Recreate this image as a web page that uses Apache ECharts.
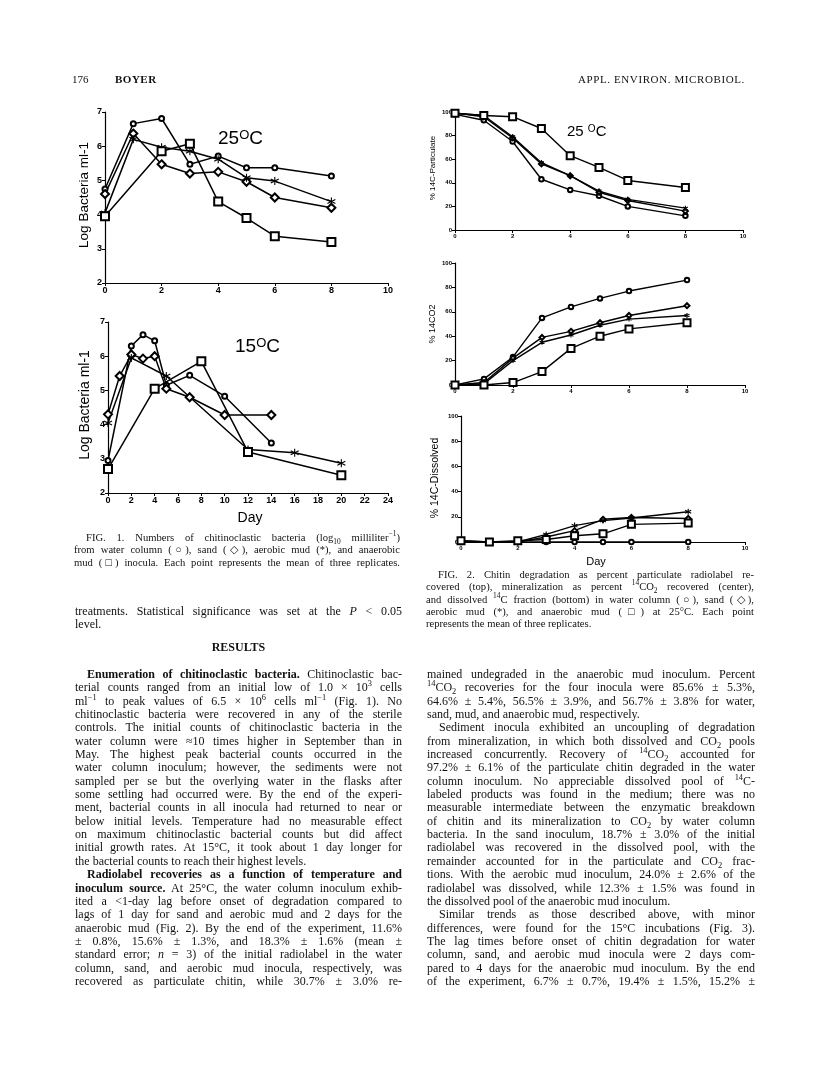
<!DOCTYPE html>
<html><head><meta charset="utf-8">
<script src="https://cdn.jsdelivr.net/npm/echarts@6/dist/echarts.min.js"></script>
<style>
html,body{margin:0;padding:0;background:#fff;}
#page{position:relative;width:816px;height:1080px;overflow:hidden;background:#fff;}
#chart{position:absolute;left:0;top:0;width:816px;height:1080px;}
.txt{position:absolute;font-family:"Liberation Serif","Times New Roman",serif;color:#111;}
.body{font-size:12px;line-height:13.35px;}
.cap{font-size:10.6px;line-height:12.3px;}
.l{white-space:nowrap;overflow:visible;height:13.35px;}
.cap .l{height:12.3px;}
.j{text-align:justify;text-align-last:justify;white-space:normal;}
.ind{padding-left:12px;}
sup,sub{font-size:70%;line-height:0;}
b{font-weight:bold;}
</style></head>
<body><div id="page"><div id="chart"></div>

<div class="txt" style="left:72px;top:73px;font-size:11px;">176</div>
<div class="txt" style="left:115px;top:73px;font-size:11px;font-weight:bold;letter-spacing:0.5px;">BOYER</div>
<div class="txt" style="left:578px;top:73px;font-size:11px;letter-spacing:0.6px;">APPL. ENVIRON. MICROBIOL.</div>

<div class="txt cap" style="left:74px;top:532px;width:326px;">
<div class="l j ind">FIG. 1. Numbers of chitinoclastic bacteria (log<sub>10</sub> milliliter<sup>−1</sup>)</div>
<div class="l j">from water column (○), sand (◇), aerobic mud (*), and anaerobic</div>
<div class="l j">mud (□) inocula. Each point represents the mean of three replicates.</div>
</div>

<div class="txt cap" style="left:426px;top:569px;width:328px;">
<div class="l j ind">FIG. 2. Chitin degradation as percent particulate radiolabel re-</div>
<div class="l j">covered (top), mineralization as percent <sup>14</sup>CO<sub>2</sub> recovered (center),</div>
<div class="l j">and dissolved <sup>14</sup>C fraction (bottom) in water column (○), sand (◇),</div>
<div class="l j">aerobic mud (*), and anaerobic mud (□) at 25°C. Each point</div>
<div class="l">represents the mean of three replicates.</div>
</div>

<div class="txt body" style="left:75px;top:605px;width:327px;">
<div class="l j">treatments. Statistical significance was set at the <i>P</i> &lt; 0.05</div>
<div class="l">level.</div>
</div>
<div class="txt body" style="left:75px;top:641px;width:327px;text-align:center;font-weight:bold;">RESULTS</div>

<div class="txt body" style="left:75px;top:668px;width:327px;">
<div class="l j ind"><b>Enumeration of chitinoclastic bacteria.</b> Chitinoclastic bac-</div>
<div class="l j">terial counts ranged from an initial low of 1.0 × 10<sup>3</sup> cells</div>
<div class="l j">ml<sup>−1</sup> to peak values of 6.5 × 10<sup>6</sup> cells ml<sup>−1</sup> (Fig. 1). No</div>
<div class="l j">chitinoclastic bacteria were recovered in any of the sterile</div>
<div class="l j">controls. The initial counts of chitinoclastic bacteria in the</div>
<div class="l j">water column were ≈10 times higher in September than in</div>
<div class="l j">May. The highest peak bacterial counts occurred in the</div>
<div class="l j">water column inoculum; however, the sediments were not</div>
<div class="l j">sampled per se but the overlying water in the flasks after</div>
<div class="l j">some settling had occurred were. By the end of the experi-</div>
<div class="l j">ment, bacterial counts in all inocula had returned to near or</div>
<div class="l j">below initial levels. Temperature had no measurable effect</div>
<div class="l j">on maximum chitinoclastic bacterial counts but did affect</div>
<div class="l j">initial growth rates. At 15°C, it took about 1 day longer for</div>
<div class="l">the bacterial counts to reach their highest levels.</div>
<div class="l j ind"><b>Radiolabel recoveries as a function of temperature and</b></div>
<div class="l j"><b>inoculum source.</b> At 25°C, the water column inoculum exhib-</div>
<div class="l j">ited a &lt;1-day lag before onset of degradation compared to</div>
<div class="l j">lags of 1 day for sand and aerobic mud and 2 days for the</div>
<div class="l j">anaerobic mud (Fig. 2). By the end of the experiment, 11.6%</div>
<div class="l j">± 0.8%, 15.6% ± 1.3%, and 18.3% ± 1.6% (mean ±</div>
<div class="l j">standard error; <i>n</i> = 3) of the initial radiolabel in the water</div>
<div class="l j">column, sand, and aerobic mud inocula, respectively, was</div>
<div class="l j">recovered as particulate chitin, while 30.7% ± 3.0% re-</div>
</div>

<div class="txt body" style="left:427px;top:668px;width:328px;">
<div class="l j">mained undegraded in the anaerobic mud inoculum. Percent</div>
<div class="l j"><sup>14</sup>CO<sub>2</sub> recoveries for the four inocula were 85.6% ± 5.3%,</div>
<div class="l j">64.6% ± 5.4%, 56.5% ± 3.9%, and 56.7% ± 3.8% for water,</div>
<div class="l">sand, mud, and anaerobic mud, respectively.</div>
<div class="l j ind">Sediment inocula exhibited an uncoupling of degradation</div>
<div class="l j">from mineralization, in which both dissolved and CO<sub>2</sub> pools</div>
<div class="l j">increased concurrently. Recovery of <sup>14</sup>CO<sub>2</sub> accounted for</div>
<div class="l j">97.2% ± 6.1% of the particulate chitin degraded in the water</div>
<div class="l j">column inoculum. No appreciable dissolved pool of <sup>14</sup>C-</div>
<div class="l j">labeled products was found in the medium; there was no</div>
<div class="l j">measurable intermediate between the enzymatic breakdown</div>
<div class="l j">of chitin and its mineralization to CO<sub>2</sub> by water column</div>
<div class="l j">bacteria. In the sand inoculum, 18.7% ± 3.0% of the initial</div>
<div class="l j">radiolabel was recovered in the dissolved pool, with the</div>
<div class="l j">remainder accounted for in the particulate and CO<sub>2</sub> frac-</div>
<div class="l j">tions. With the aerobic mud inoculum, 24.0% ± 2.6% of the</div>
<div class="l j">radiolabel was dissolved, while 12.3% ± 1.5% was found in</div>
<div class="l">the dissolved pool of the anaerobic mud inoculum.</div>
<div class="l j ind">Similar trends as those described above, with minor</div>
<div class="l j">differences, were found for the 15°C incubations (Fig. 3).</div>
<div class="l j">The lag times before onset of chitin degradation for water</div>
<div class="l j">column, sand, and aerobic mud inocula were 2 days com-</div>
<div class="l j">pared to 4 days for the anaerobic mud inoculum. By the end</div>
<div class="l j">of the experiment, 6.7% ± 0.7%, 19.4% ± 1.5%, 15.2% ±</div>
</div>
</div>

<script>
// ---------- DATA ----------
// Fig. 1, 25 C : log bacteria per ml
const f1a_water_days = [0,1,2,3,4,5,6,8];
const f1a_water      = [4.75,6.66,6.81,5.47,5.71,5.37,5.37,5.13];
const f1a_sand_days  = [0,1,2,3,4,5,6,8];
const f1a_sand       = [4.6,6.37,5.47,5.2,5.25,4.96,4.5,4.2];
const f1a_aer_days   = [0,1,2,3,4,5,6,8];
const f1a_aer        = [4.05,6.2,5.97,5.85,5.62,5.08,4.98,4.38];
const f1a_ana_days   = [0,2,3,4,5,6,8];
const f1a_ana        = [3.95,5.85,6.07,4.38,3.9,3.37,3.2];
// Fig. 1, 15 C
const f1b_water_days = [0,2,3,4,5,7,10,14];
const f1b_water      = [2.95,6.3,6.63,6.45,5.15,5.44,4.83,3.46];
const f1b_sand_days  = [0,1,2,3,4,5,7,10,14];
const f1b_sand       = [4.3,5.42,6.05,5.93,6.0,5.05,4.8,4.28,4.28];
const f1b_aer_days   = [0,2,5,12,16,20];
const f1b_aer        = [4.05,5.95,5.42,3.27,3.18,2.87];
const f1b_ana_days   = [0,4,8,12,20];
const f1b_ana        = [2.7,5.05,5.85,3.2,2.52];
// Fig. 2 (25 C), percent of radiolabel
const f2_days = [0,1,2,3,4,5,6,8];
const part_water = [98,93,75,43,34,29,20,12];
const part_sand  = [99,96,78,56,46,32,25,16];
const part_aer   = [99,97,79,57,46,33,26,18.5];
const part_ana   = [99,97,96,86,63,53,42,36];
const co2_water  = [0,5,23,55,64,71,77,86];
const co2_sand   = [0,2,22,39,44,51,57,65];
const co2_aer    = [0,1,20,35,41,49,54,57];
const co2_ana    = [0,0,2,11,30,40,46,51];
const dis_water  = [0,0,0,0,0,0,0,0];
const dis_sand   = [1,0,0,4,9,18,19.5,18.7];
const dis_aer    = [0,0,0,6,13,17,19,24];
const dis_ana    = [1,0,1,2,5,6.5,14,15];

// ---------- CHART ----------
const pairs = (xs, ys) => xs.map((x,i)=>[x, ys[i]]);
const STAR = 'path://M5 0L5 10M0.67 2.5L9.33 7.5M0.67 7.5L9.33 2.5';
const SANS = 'Liberation Sans, Arial, sans-serif';

function ser(idx, data, symbol, size, lw) {
  return {
    type:'line', xAxisIndex:idx, yAxisIndex:idx, data, symbol, symbolSize:size,
    showAllSymbol:true, silent:true, animation:false,
    lineStyle:{color:'#000', width:lw},
    itemStyle:{color: symbol===STAR ? 'rgba(0,0,0,0)' : '#000', borderColor:'#000', borderWidth: symbol===STAR?1.1:1}
  };
}

const grids = [
  {left:105, top:112, width:283, height:171},
  {left:108, top:322, width:280, height:171},
  {left:455, top:112, width:288, height:118},
  {left:455, top:263, width:290, height:122},
  {left:461, top:416, width:284, height:126}
];

function xAx(idx, max, interval, fs) {
  return {type:'value', gridIndex:idx, min:0, max, interval,
    axisLine:{show:true, onZero:false, lineStyle:{color:'#000', width:1.2}},
    axisTick:{show:true, inside:false, length:3, lineStyle:{color:'#000'}},
    axisLabel:{color:'#000', fontSize:fs, fontWeight:'bold', fontFamily:SANS, margin:3},
    splitLine:{show:false}};
}
function yAx(idx, min, max, interval, fs) {
  return {type:'value', gridIndex:idx, min, max, interval,
    axisLine:{show:true, onZero:false, lineStyle:{color:'#000', width:1.2}},
    axisTick:{show:true, inside:false, length:3, lineStyle:{color:'#000'}},
    axisLabel:{color:'#000', fontSize:fs, fontWeight:'bold', fontFamily:SANS, margin:3},
    splitLine:{show:false}};
}

function deg(x, y, num, fs, space) {
  return {type:'text', x, y, silent:true, style:{
    text:'{a|'+num+space+'}{b|O}{a|C}', fill:'#000',
    rich:{a:{fontSize:fs, fontFamily:SANS, fill:'#000'}, b:{fontSize:Math.round(fs*0.68), fontFamily:SANS, verticalAlign:'top', fill:'#000'}}
  }};
}
function vtitle(x, y, text, fs) {
  return {type:'text', x, y, rotation:Math.PI/2, silent:true,
    style:{text, fontSize:fs, fontFamily:SANS, fill:'#000', align:'center', verticalAlign:'middle'}};
}

const chart = echarts.init(document.getElementById('chart'), null, {renderer:'canvas'});
chart.setOption({
  animation:false,
  backgroundColor:'transparent',
  grid: grids,
  xAxis:[xAx(0,10,2,9), xAx(1,24,2,9), xAx(2,10,2,6), xAx(3,10,2,6), xAx(4,10,2,6)],
  yAxis:[yAx(0,2,7,1,9), yAx(1,2,7,1,9), yAx(2,0,100,20,6), yAx(3,0,100,20,6), yAx(4,0,100,20,6)],
  series:[
    ser(0, pairs(f1a_water_days,f1a_water), 'emptyCircle', 5, 1.5),
    ser(0, pairs(f1a_sand_days,f1a_sand), 'emptyDiamond', 8, 1.5),
    ser(0, pairs(f1a_aer_days,f1a_aer), STAR, 8, 1.5),
    ser(0, pairs(f1a_ana_days,f1a_ana), 'emptyRect', 8, 1.5),
    ser(1, pairs(f1b_water_days,f1b_water), 'emptyCircle', 5, 1.5),
    ser(1, pairs(f1b_sand_days,f1b_sand), 'emptyDiamond', 8, 1.5),
    ser(1, pairs(f1b_aer_days,f1b_aer), STAR, 8, 1.5),
    ser(1, pairs(f1b_ana_days,f1b_ana), 'emptyRect', 8, 1.5),
    ser(2, pairs(f2_days,part_water), 'emptyCircle', 4.5, 1.4),
    ser(2, pairs(f2_days,part_sand), 'emptyDiamond', 5, 1.4),
    ser(2, pairs(f2_days,part_aer), STAR, 5, 1.4),
    ser(2, pairs(f2_days,part_ana), 'emptyRect', 7, 1.4),
    ser(3, pairs(f2_days,co2_water), 'emptyCircle', 4.5, 1.4),
    ser(3, pairs(f2_days,co2_sand), 'emptyDiamond', 5, 1.4),
    ser(3, pairs(f2_days,co2_aer), STAR, 5, 1.4),
    ser(3, pairs(f2_days,co2_ana), 'emptyRect', 7, 1.4),
    ser(4, pairs(f2_days,dis_water), 'emptyCircle', 4.5, 1.4),
    ser(4, pairs(f2_days,dis_sand), 'emptyDiamond', 5, 1.4),
    ser(4, pairs(f2_days,dis_aer), STAR, 6, 1.4),
    ser(4, pairs(f2_days,dis_ana), 'emptyRect', 7, 1.4)
  ],
  graphic:[
    deg(218, 129, '25', 19, ''),
    deg(235, 337, '15', 19, ''),
    deg(567, 124, '25', 15, ' '),
    vtitle(84, 195, 'Log Bacteria ml-1', 13.5),
    vtitle(85, 405, 'Log Bacteria ml-1', 14),
    {type:'text', x:250, y:518, silent:true, style:{text:'Day', fontSize:14, fontFamily:SANS, fill:'#000', align:'center', verticalAlign:'middle'}},
    vtitle(433, 168, '% 14C-Particulate', 8),
    vtitle(433, 324, '% 14CO2', 9),
    vtitle(435, 478, '% 14C-Dissolved', 10.5),
    {type:'text', x:596, y:562, silent:true, style:{text:'Day', fontSize:11, fontFamily:SANS, fill:'#000', align:'center', verticalAlign:'middle'}}
  ]
});
</script>
</body></html>
